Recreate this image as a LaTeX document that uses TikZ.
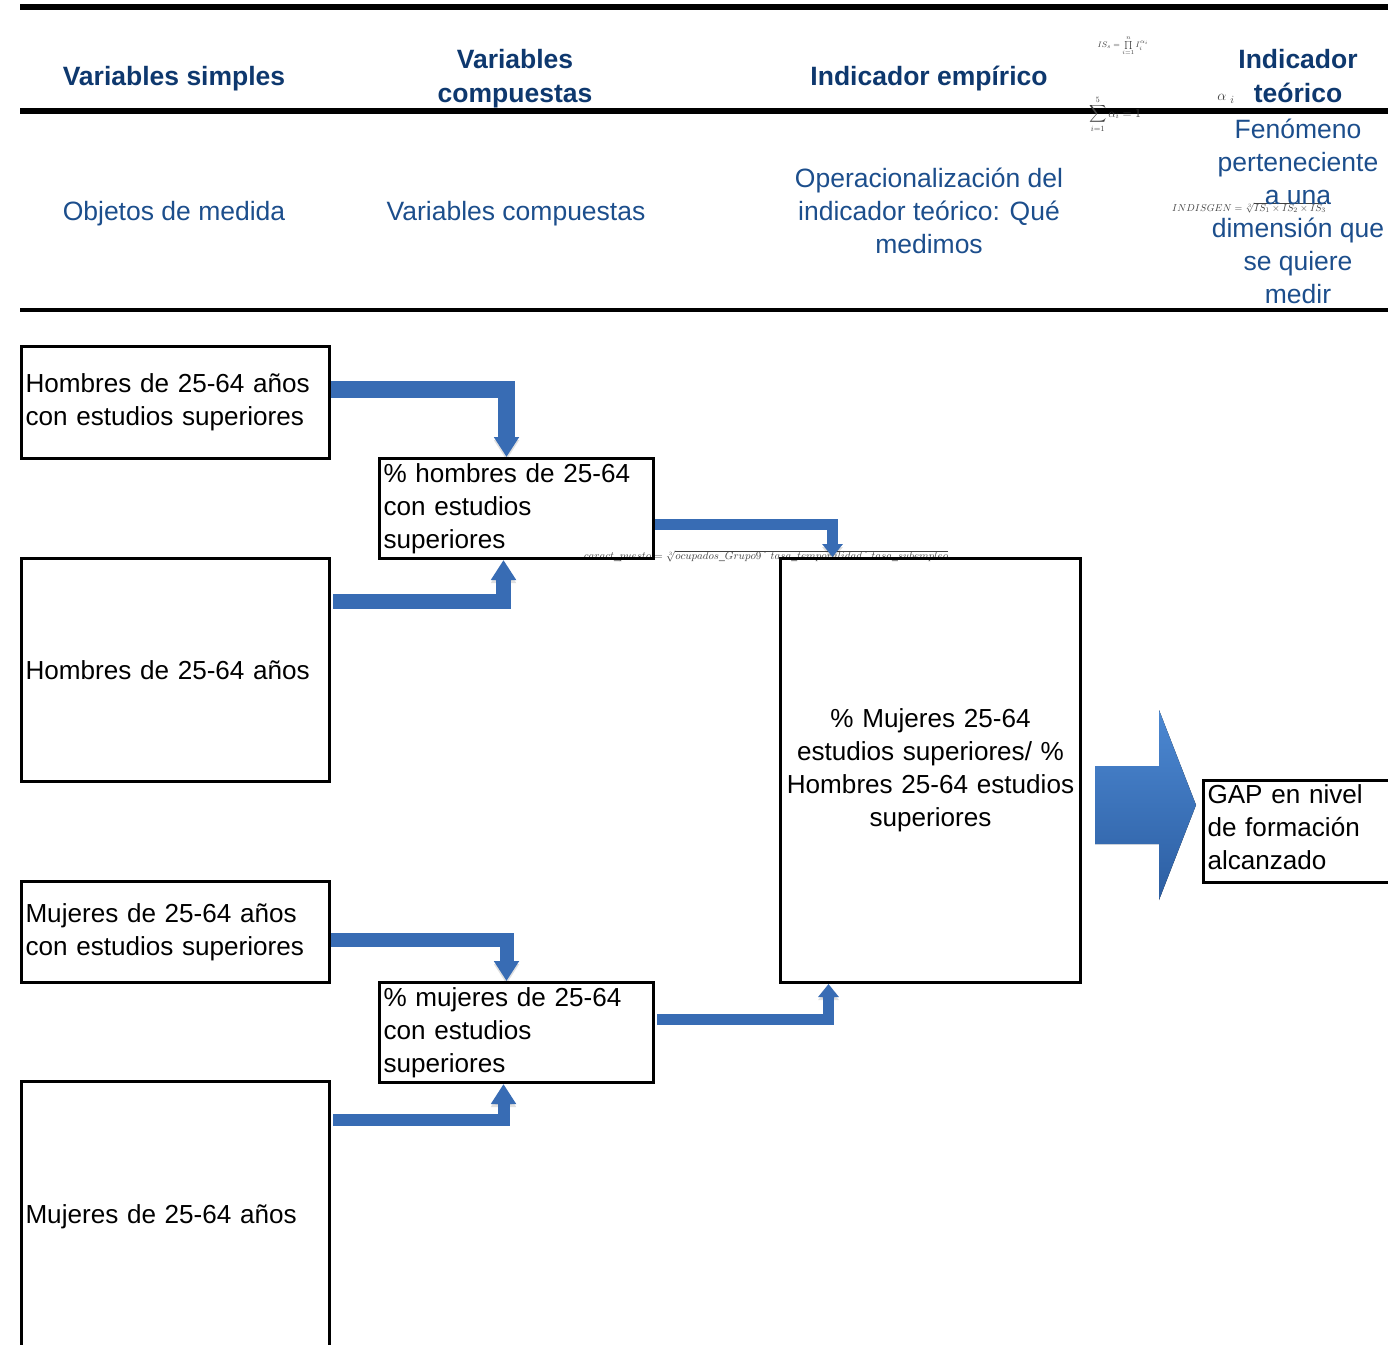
\documentclass[tikz,border=0pt]{standalone}
\usepackage{exscale}
\usepackage{fontspec}
\setmainfont{Liberation Sans}
\usetikzlibrary{arrows.meta}
\definecolor{hdrblue}{RGB}{14,56,110}
\definecolor{txtblue}{RGB}{28,78,140}
\definecolor{arrblue}{RGB}{56,108,180}
\definecolor{arrtop}{RGB}{76,136,210}
\definecolor{arrbot}{RGB}{44,94,162}
\begin{document}
\begin{tikzpicture}[x=1pt,y=-1pt,
  every node/.style={font=\fontsize{26.1}{33}\selectfont, inner sep=0pt},
  box/.style={draw, line width=3pt, anchor=north west, align=left, inner xsep=4pt},
  hdr/.style={text=hdrblue, font=\fontsize{26.5}{34}\selectfont\bfseries, align=center},
  lbl/.style={text=txtblue, font=\fontsize{26.5}{33}\selectfont, align=center},
  formula/.style={text=black!75, font=\fontsize{10}{11}\selectfont},
  connthick/.style={draw=arrblue, line width=#1, -{Triangle[width=24pt,length=20pt]},
    preaction={draw=black, opacity=.12, transform canvas={yshift=-3pt}}},
  connthin/.style={draw=arrblue, line width=#1, -{Triangle[width=20pt,length=13pt]},
    preaction={draw=black, opacity=.12, transform canvas={yshift=-3pt}}}]
\useasboundingbox (0,0) rectangle (1388,1344);

% header rules
\draw[line width=6pt] (20,7) -- (1388,7);
\draw[line width=6pt] (20,111) -- (1388,111);
\draw[line width=3.5pt] (20,310) -- (1388,310);

% small formulas (behind)
\node[formula, font=\fontsize{8}{9}\selectfont] (f1) at (1123,46) {$IS_s=\prod\limits_{i=1}^{n} I_i^{\alpha_i}$};
\node[formula, font=\fontsize{12}{13}\selectfont] (f2) at (1115,114) {$\displaystyle\sum_{i=1}^{5}\alpha_i=1$};
\node[formula, font=\fontsize{15}{16}\selectfont] (f3) at (1226,99) {$\alpha\ {}_{i}$};
\node[formula] (f4) at (1249,208) {$INDISGEN=\sqrt[3]{IS_1\times IS_2\times IS_3}$};
\node[formula, font=\fontsize{10.5}{11}\selectfont] (f5) at (766,556) {$caract\_puesto=\sqrt[3]{ocupados\_Grupo9\mbox{ ´ }tasa\_temporalidad\mbox{ ´ }tasa\_subempleo}$};

% header texts
\node[hdr] (h1) at (174,79) {Variables simples};
\node[hdr] (h2) at (515,79) {Variables\\compuestas};
\node[hdr] (h3) at (929,79) {Indicador empírico};
\node[hdr] (h4) at (1298,76) {Indicador\\teórico};

\node[lbl] (b1) at (174,214) {Objetos de medida};
\node[lbl] (b2) at (516,214) {Variables compuestas};
\node[lbl] (b3) at (929,211) {Operacionalización del\\indicador teórico: Qué\\medimos};
\node[lbl] (b4) at (1298,211) {Fenómeno\\perteneciente\\a una\\dimensión que\\se quiere\\medir};

% boxes
\node[box, text width=300pt, minimum height=112pt] (A) at (20,345) {Hombres de 25-64 años\\con estudios superiores};
\node[box, text width=300pt, minimum height=223pt] (B) at (20,557) {Hombres de 25-64 años};
\node[box, text width=300pt, minimum height=101pt] (C) at (20,880) {Mujeres de 25-64 años\\con estudios superiores};
\node[box, text width=300pt, minimum height=270pt] (D) at (20,1080) {Mujeres de 25-64 años};
\node[box, text width=266pt, minimum height=100pt] (E) at (378,457) {\% hombres de 25-64\\con estudios\\superiores};
\node[box, text width=266pt, minimum height=100pt] (F) at (378,981) {\% mujeres de 25-64\\con estudios\\superiores};
\node[box, text width=294pt, inner xsep=3pt, minimum height=424pt, align=center] (G) at (779,557) {\% Mujeres 25-64\\estudios superiores/ \%\\Hombres 25-64 estudios\\superiores};
\node[box, text width=204pt, minimum height=102pt] (H) at (1202,779) {GAP en nivel\\de formación\\alcanzado\rule[-9pt]{0pt}{0pt}};

% connectors
\draw[connthick=17pt] ([yshift=13pt]A.east) -| ([xshift=-10pt]E.north);
\draw[connthick=15pt] ([yshift=68.5pt,xshift=2pt]B.east) -| ([xshift=-13pt]E.south);
\draw[connthin=11pt] ([yshift=-16pt]E.east) -| ([xshift=-98pt]G.north);
\draw[connthin=11pt] ([yshift=13pt,xshift=2pt]F.east) -| ([xshift=-102pt]G.south);
\draw[connthick=14pt] ([yshift=-7.5pt]C.east) -| ([xshift=-10pt]F.north);
\draw[connthick=12pt] ([yshift=97pt,xshift=2pt]D.east) -| ([xshift=-13pt]F.south);

% block arrow G -> H
\fill[top color=arrtop, bottom color=arrbot] (1095,766) -- (1159,766) -- (1159,710) -- (1196,805) -- (1159,900) -- (1159,844) -- (1095,844) -- cycle;
\end{tikzpicture}
\end{document}
